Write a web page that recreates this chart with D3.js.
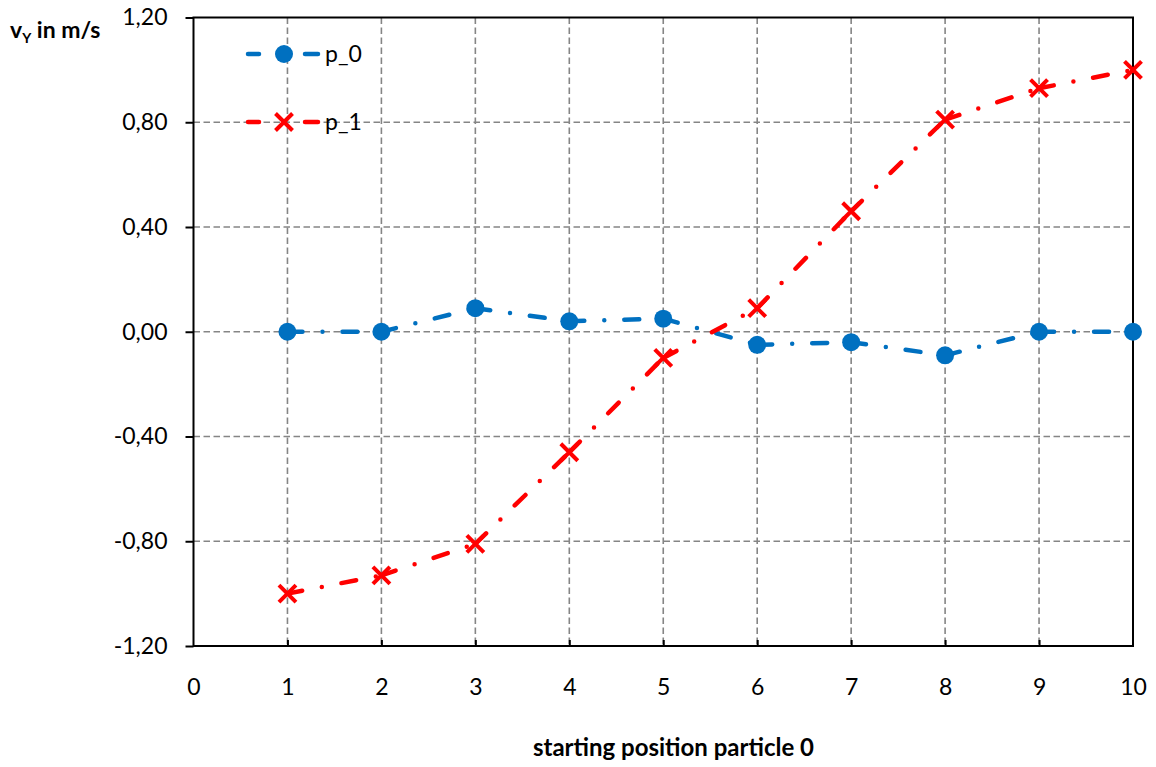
<!DOCTYPE html>
<html>
<head>
<meta charset="utf-8">
<script src="https://cdn.jsdelivr.net/npm/d3@7"></script>
<style>
  body { margin: 0; background: #fff; }
  svg { display: block; }
</style>
</head>
<body>
<svg id="chart"></svg>
<script>
// --- data ---
const xPositions = [1, 2, 3, 4, 5, 6, 7, 8, 9, 10];
const p0Values = [0.00, 0.00, 0.09, 0.04, 0.05, -0.05, -0.04, -0.09, 0.00, 0.00];
const p1Values = [-1.00, -0.93, -0.81, -0.46, -0.10, 0.09, 0.46, 0.81, 0.93, 1.00];
const xTicks = [0, 1, 2, 3, 4, 5, 6, 7, 8, 9, 10];
const yTicks = [-1.2, -0.8, -0.4, 0, 0.4, 0.8, 1.2];
const seriesNames = ['p_0', 'p_1'];

const WIDTH = 1156;
const HEIGHT = 767;
const LEFT = 193.5;
const RIGHT = 1133;
const TOP = 17.5;
const BOTTOM = 646;

const FONT = 'Lato, "Open Sans", sans-serif';
const BLUE = '#0070C0';
const RED = '#FF0000';
const GRID = '#858585';
const LINE_DASH = '15,20,0,20';

const svg = d3.select('#chart')
  .attr('width', WIDTH)
  .attr('height', HEIGHT)
  .attr('font-family', FONT);

const x = d3.scaleLinear().domain([0, 10]).range([LEFT, RIGHT]);
const y = d3.scaleLinear().domain([-1.2, 1.2]).range([BOTTOM, TOP]);

const commaFmt = d => d3.format('.2f')(d).replace('.', ',').replace('−', '-');

/* --GRID-- */
const grid = svg.append('g')
  .attr('stroke', GRID)
  .attr('stroke-width', 1.6)
  .attr('stroke-dasharray', '6.5,3.5');

grid.selectAll('line.h')
  .data(yTicks.filter(d => d > -1.2 && d < 1.2))
  .enter().append('line')
  .attr('class', 'h')
  .attr('x1', LEFT).attr('x2', RIGHT)
  .attr('y1', d => y(d)).attr('y2', d => y(d));

grid.selectAll('line.v')
  .data(xTicks.filter(d => d > 0 && d < 10))
  .enter().append('line')
  .attr('class', 'v')
  .attr('y1', TOP).attr('y2', BOTTOM)
  .attr('x1', d => x(d)).attr('x2', d => x(d));

/* --AXES-- */
const yAxis = d3.axisLeft(y)
  .tickValues(yTicks)
  .tickFormat(commaFmt)
  .tickSize(8)
  .tickPadding(18);

const yG = svg.append('g')
  .attr('transform', `translate(${LEFT},0)`)
  .call(yAxis);

const xAxis = d3.axisBottom(x)
  .tickValues(xTicks)
  .tickFormat(d3.format('d'))
  .tickSize(-6)
  .tickPadding(33);

const xG = svg.append('g')
  .attr('transform', `translate(0,${BOTTOM})`)
  .call(xAxis);

[yG, xG].forEach(g => {
  g.select('.domain').remove();
  g.selectAll('.tick line').attr('stroke', '#000').attr('stroke-width', 2);
  g.selectAll('.tick text')
    .attr('font-family', FONT)
    .attr('font-size', 23)
    .attr('fill', '#000');
});
xG.selectAll('.tick line').filter(d => d === 0 || d === 10).remove();

// plot border
svg.append('rect')
  .attr('x', LEFT).attr('y', TOP)
  .attr('width', RIGHT - LEFT).attr('height', BOTTOM - TOP)
  .attr('fill', 'none')
  .attr('stroke', '#000')
  .attr('stroke-width', 2);

/* --SERIES-- */
const line = d3.line().x(d => x(d[0])).y(d => y(d[1]));

function drawSeries(values, color, marker) {
  const pts = xPositions.map((xp, i) => [xp, values[i]]);
  const g = svg.append('g');
  g.selectAll('path.seg')
    .data(d3.pairs(pts))
    .enter().append('path')
    .attr('class', 'seg')
    .attr('d', d => line(d))
    .attr('fill', 'none')
    .attr('stroke', color)
    .attr('stroke-width', 4.5)
    .attr('stroke-linecap', 'round')
    .attr('stroke-dasharray', LINE_DASH);
  const m = g.selectAll('g.marker')
    .data(pts)
    .enter().append('g')
    .attr('class', 'marker')
    .attr('transform', d => `translate(${x(d[0])},${y(d[1])})`);
  marker(m, color);
}

function circleMarker(sel, color) {
  sel.append('circle').attr('r', 9).attr('fill', color);
}

function crossMarker(sel, color) {
  sel.append('path')
    .attr('d', 'M-8.5,-8.5L8.5,8.5M-8.5,8.5L8.5,-8.5')
    .attr('stroke', color)
    .attr('stroke-width', 4)
    .attr('fill', 'none');
}

drawSeries(p0Values, BLUE, circleMarker);
drawSeries(p1Values, RED, crossMarker);

/* --LEGEND-- */
const legendItems = [
  { name: seriesNames[0], color: BLUE, marker: circleMarker },
  { name: seriesNames[1], color: RED, marker: crossMarker }
];
const legendX = 248;
legendItems.forEach((item, i) => {
  const ly = 54 + i * 68;
  const lg = svg.append('g').attr('transform', `translate(${legendX},${ly})`);
  [[0, 11], [57, 70]].forEach(([a, b]) => {
    lg.append('line')
      .attr('x1', a).attr('x2', b)
      .attr('stroke', item.color)
      .attr('stroke-width', 4.5)
      .attr('stroke-linecap', 'round');
  });
  item.marker(lg.append('g').attr('transform', 'translate(36,0)'), item.color);
  lg.append('text')
    .attr('x', 77)
    .attr('y', 8)
    .attr('font-size', 23)
    .attr('fill', '#000')
    .text(item.name);
});

/* --AXIS TITLES-- */
const yTitle = svg.append('text')
  .attr('x', 10)
  .attr('y', 38)
  .attr('font-size', 23)
  .attr('font-weight', 'bold')
  .attr('fill', '#000');
yTitle.append('tspan').text('v');
yTitle.append('tspan').attr('font-size', 14).attr('dy', 5).text('Y');
yTitle.append('tspan').attr('dy', -5).text(' in m/s');

svg.append('text')
  .attr('x', 673.5)
  .attr('y', 756)
  .attr('text-anchor', 'middle')
  .attr('font-size', 24)
  .attr('font-weight', 'bold')
  .attr('fill', '#000')
  .text('starting position particle 0');
</script>
</body>
</html>
